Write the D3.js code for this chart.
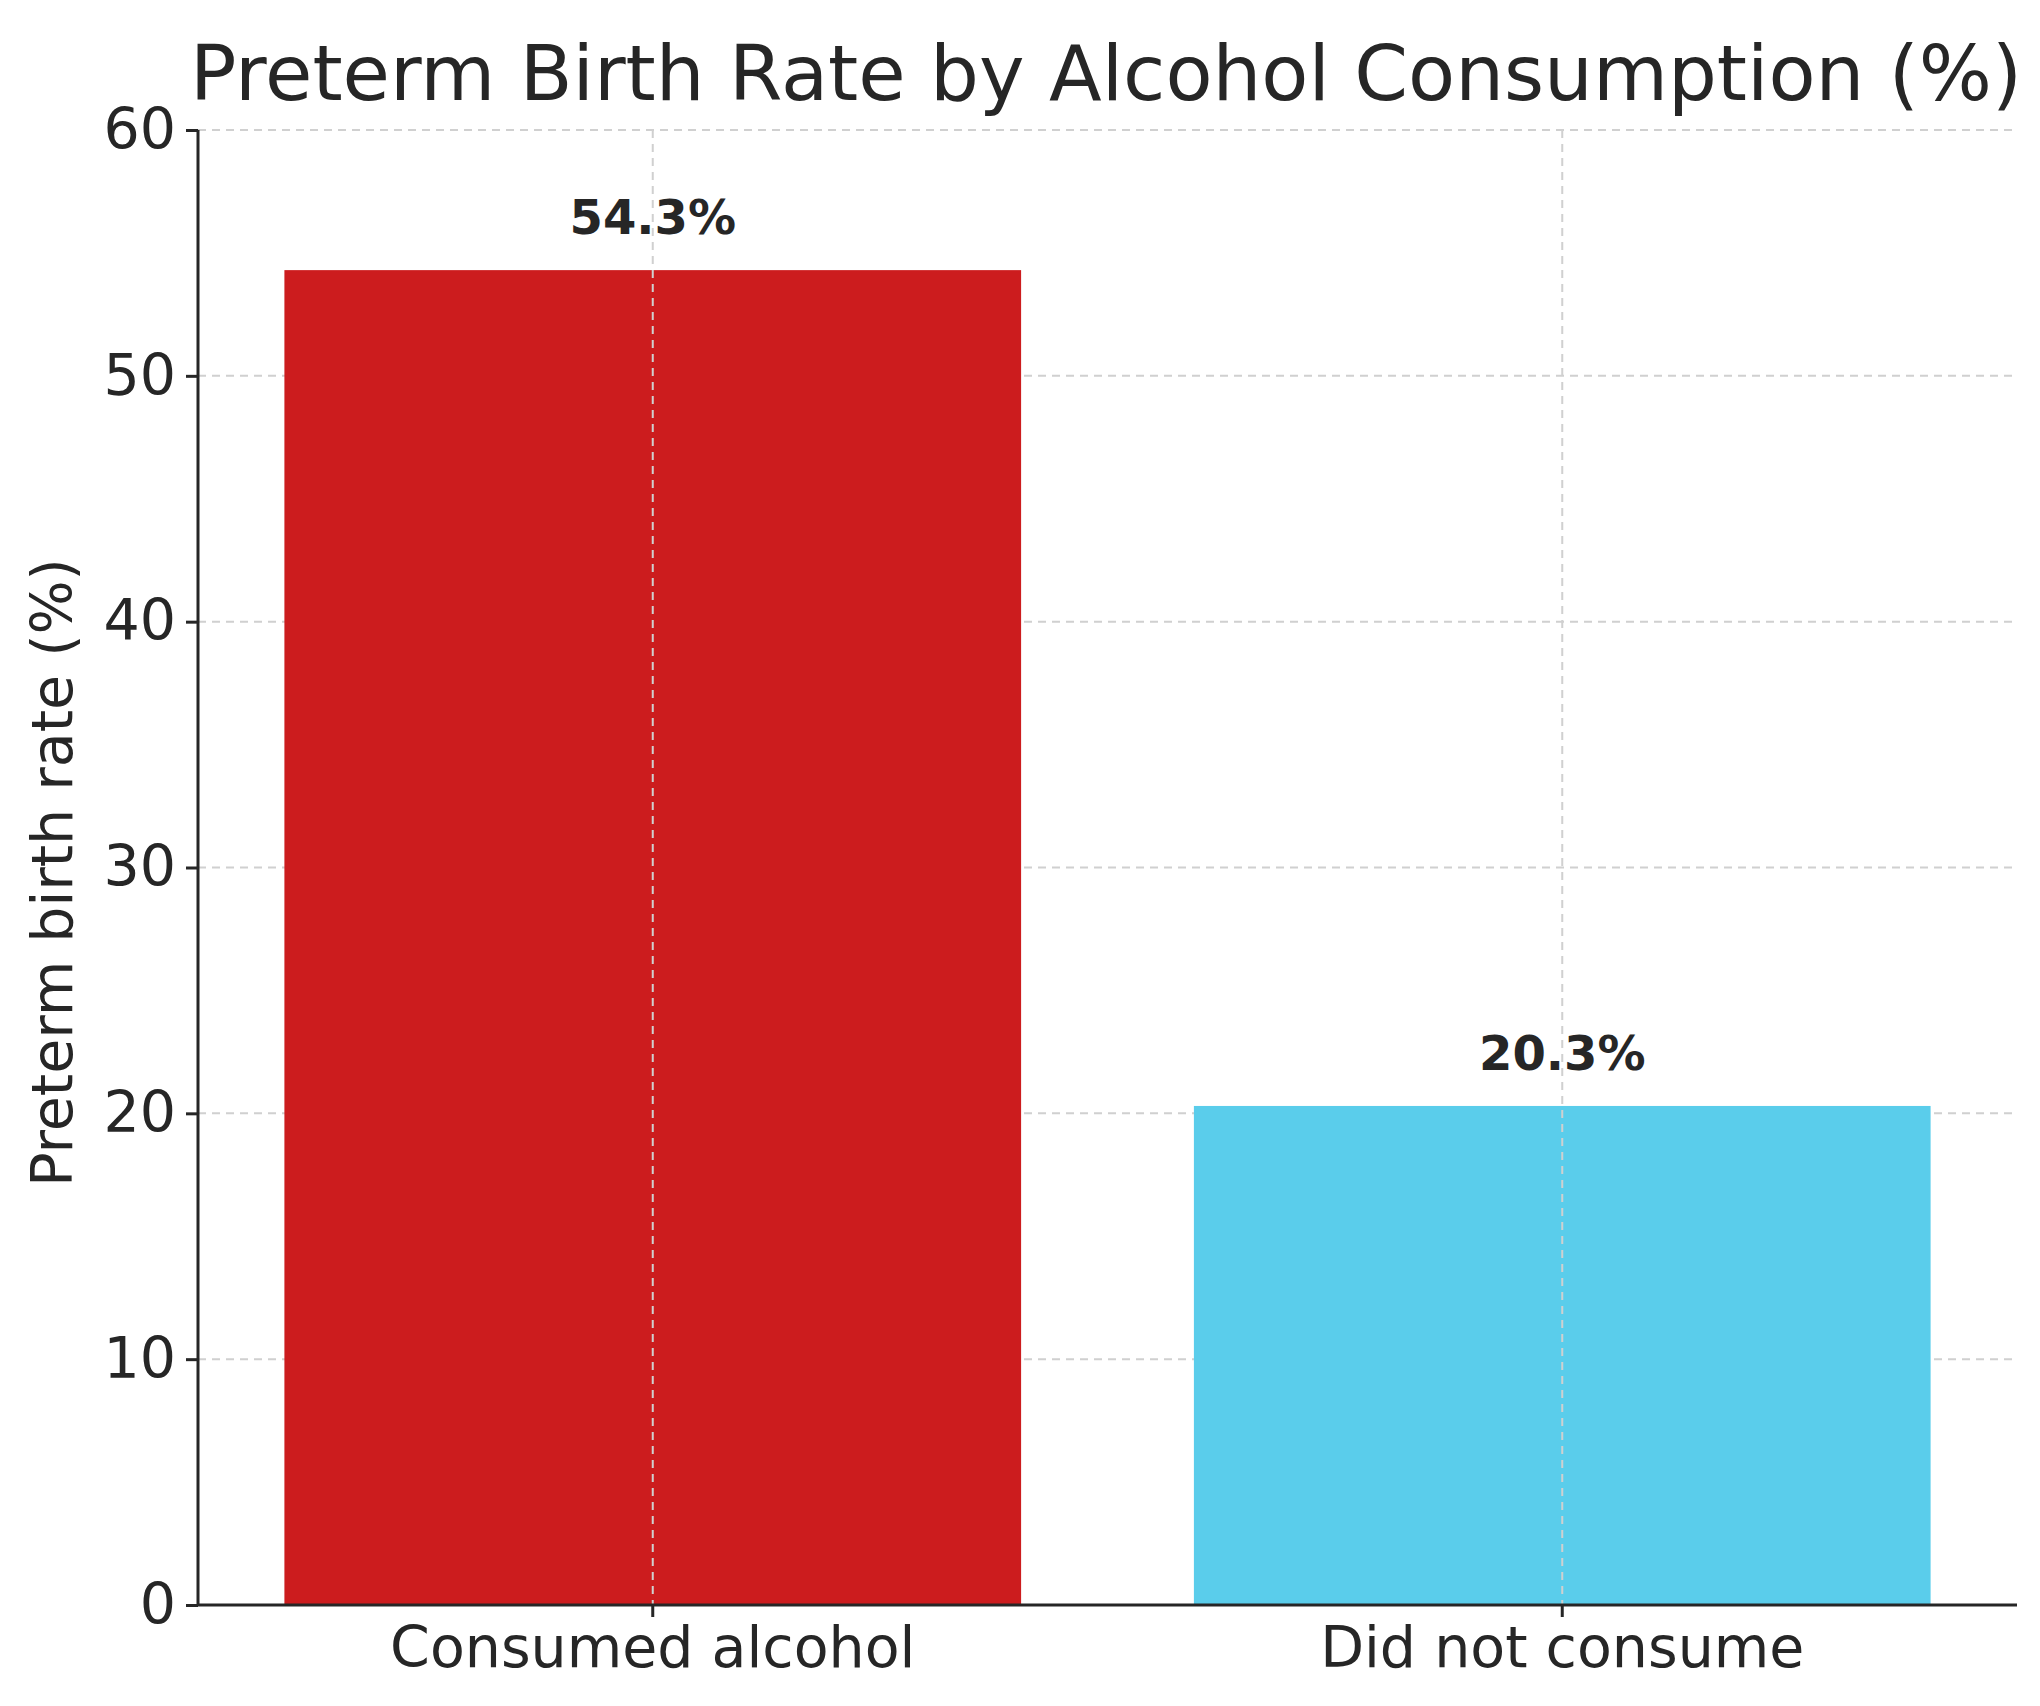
<!DOCTYPE html>
<html>
<head>
<meta charset="utf-8">
<script src="https://cdn.jsdelivr.net/npm/d3@7"></script>
<style>
  body { margin: 0; background: #fff; }
  text { font-family: "DejaVu Sans", sans-serif; fill: #262626; }
</style>
</head>
<body>
<svg width="2040" height="1706"></svg>
<script>
// Données
const categories = ["Consumed alcohol", "Did not consume"];
const rates = [54.3, 20.3];
const barColors = ["#CC1C1E", "#5ACDEB"];
const yTicks = [0, 10, 20, 30, 40, 50, 60];

const margin = { left: 198, right: 2017, top: 130, bottom: 1605 };
const svg = d3.select("svg");

const x = d3.scaleBand()
    .domain(categories)
    .range([margin.left, margin.right])
    .paddingInner(0.19)
    .paddingOuter(0.095);

const y = d3.scaleLinear()
    .domain([0, 60])
    .range([margin.bottom, margin.top]);

// grille horizontale
svg.append("g")
    .selectAll("line")
    .data(yTicks.slice(1))
    .join("line")
    .attr("x1", margin.left)
    .attr("x2", margin.right)
    .attr("y1", d => y(d))
    .attr("y2", d => y(d))
    .attr("stroke", "#d0d0d0")
    .attr("stroke-width", 2)
    .attr("stroke-dasharray", "8,6");

// barres
svg.append("g")
    .selectAll("rect")
    .data(rates)
    .join("rect")
    .attr("x", (d, i) => x(categories[i]))
    .attr("y", d => y(d))
    .attr("width", x.bandwidth())
    .attr("height", d => y(0) - y(d))
    .attr("fill", (d, i) => barColors[i]);

// grille verticale (par-dessus les barres)
svg.append("g")
    .selectAll("line")
    .data(categories)
    .join("line")
    .attr("x1", d => x(d) + x.bandwidth() / 2)
    .attr("x2", d => x(d) + x.bandwidth() / 2)
    .attr("y1", margin.top)
    .attr("y2", margin.bottom)
    .attr("stroke", "#d0d0d0")
    .attr("stroke-width", 2)
    .attr("stroke-dasharray", "8,6");

// axes
const yAxis = svg.append("g")
    .attr("transform", `translate(${margin.left},0)`)
    .call(d3.axisLeft(y).tickValues(yTicks).tickSize(12).tickPadding(10));
const xAxis = svg.append("g")
    .attr("transform", `translate(0,${margin.bottom})`)
    .call(d3.axisBottom(x).tickSize(12).tickPadding(10));

[yAxis, xAxis].forEach(g => {
    g.select(".domain").attr("stroke", "#262626").attr("stroke-width", 3);
    g.selectAll(".tick line").attr("stroke", "#262626").attr("stroke-width", 3);
    g.selectAll(".tick text").attr("font-size", 57).attr("fill", "#262626")
        .style("font-family", "DejaVu Sans, sans-serif");
});
xAxis.select(".domain").attr("d", `M${margin.left},0H${margin.right}`);
yAxis.select(".domain").attr("d", `M0,${margin.bottom}V${margin.top}`);

// étiquettes des valeurs
svg.append("g")
    .selectAll("text")
    .data(rates)
    .join("text")
    .attr("x", (d, i) => x(categories[i]) + x.bandwidth() / 2)
    .attr("y", d => y(d) - 36)
    .attr("text-anchor", "middle")
    .attr("font-size", 48)
    .attr("font-weight", "bold")
    .text(d => d.toFixed(1) + "%");

// titre
svg.append("text")
    .attr("x", 1106)
    .attr("y", 100)
    .attr("text-anchor", "middle")
    .attr("font-size", 77)
    .text("Preterm Birth Rate by Alcohol Consumption (%)");

// titre de l'axe Y
svg.append("text")
    .attr("transform", `translate(72,${(margin.top + margin.bottom) / 2 + 5}) rotate(-90)`)
    .attr("text-anchor", "middle")
    .attr("font-size", 57)
    .text("Preterm birth rate (%)");
</script>
</body>
</html>
